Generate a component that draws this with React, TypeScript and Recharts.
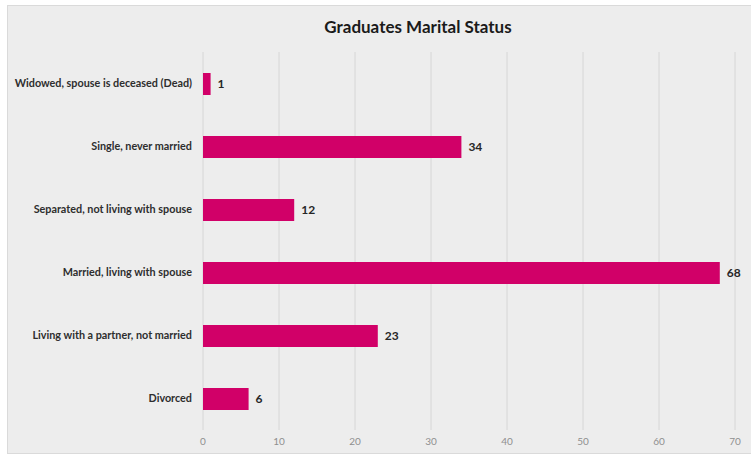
import React from "react";
import { BarChart, Bar, XAxis, YAxis, CartesianGrid, LabelList } from "recharts";

const categories = [
  "Widowed, spouse is deceased (Dead)",
  "Single, never married",
  "Separated, not living with spouse",
  "Married, living with spouse",
  "Living with a partner, not married",
  "Divorced",
];
const counts = [1, 34, 12, 68, 23, 6];
const xTicks = [0, 10, 20, 30, 40, 50, 60, 70];
const title = "Graduates Marital Status";

const data = categories.map((c, i) => ({ name: c, value: counts[i] }));

const FONT = "Lato, 'Noto Sans', sans-serif";

const CategoryTick = (props: any) => {
  const { x, y, payload } = props;
  return (
    <text
      x={x}
      y={y}
      dy={3.5}
      textAnchor="end"
      fill="#2e2e2e"
      fontSize={10.8}
      fontWeight={700}
      fontFamily={FONT}
    >
      {payload.value}
    </text>
  );
};

export default function App() {
  return (
    <div style={{ position: "absolute", left: 0, top: 0, width: 751, height: 455, background: "#ffffff", overflow: "hidden" }}>
      <div
        style={{
          position: "absolute",
          left: 7,
          top: 5,
          width: 760,
          height: 449,
          background: "#ededed",
          borderLeft: "1px solid #dadada",
          borderTop: "1px solid #dadada",
          borderBottom: "1px solid #dadada",
          boxSizing: "border-box",
        }}
      />
      <div
        style={{
          position: "absolute",
          left: 218,
          top: 15,
          width: 400,
          textAlign: "center",
          fontFamily: FONT,
          fontWeight: 700,
          fontSize: 17,
          color: "#1a1a1a",
          lineHeight: "24px",
        }}
      >
        {title}
      </div>
      <div style={{ position: "absolute", left: 0, top: 0 }}>
        <BarChart
          width={751}
          height={455}
          data={data}
          layout="vertical"
          margin={{ top: 52, right: 16, bottom: 0, left: 0 }}
        >
          <CartesianGrid horizontal={false} vertical={true} stroke="#d6d6d6" />
          <XAxis
            type="number"
            domain={[0, 70]}
            ticks={xTicks}
            axisLine={false}
            tickLine={false}
            height={25}
            tick={{ fill: "#8f8f8f", fontSize: 10, fontFamily: FONT }}
          />
          <YAxis
            type="category"
            dataKey="name"
            width={203}
            axisLine={false}
            tickLine={false}
            tickMargin={5}
            interval={0}
            tick={<CategoryTick />}
          />
          <Bar dataKey="value" fill="#d10068" barSize={22} isAnimationActive={false}>
            <LabelList
              dataKey="value"
              position="right"
              offset={7}
              style={{ fill: "#262626", fontSize: 12, fontWeight: 700, fontFamily: FONT }}
            />
          </Bar>
        </BarChart>
      </div>
    </div>
  );
}
